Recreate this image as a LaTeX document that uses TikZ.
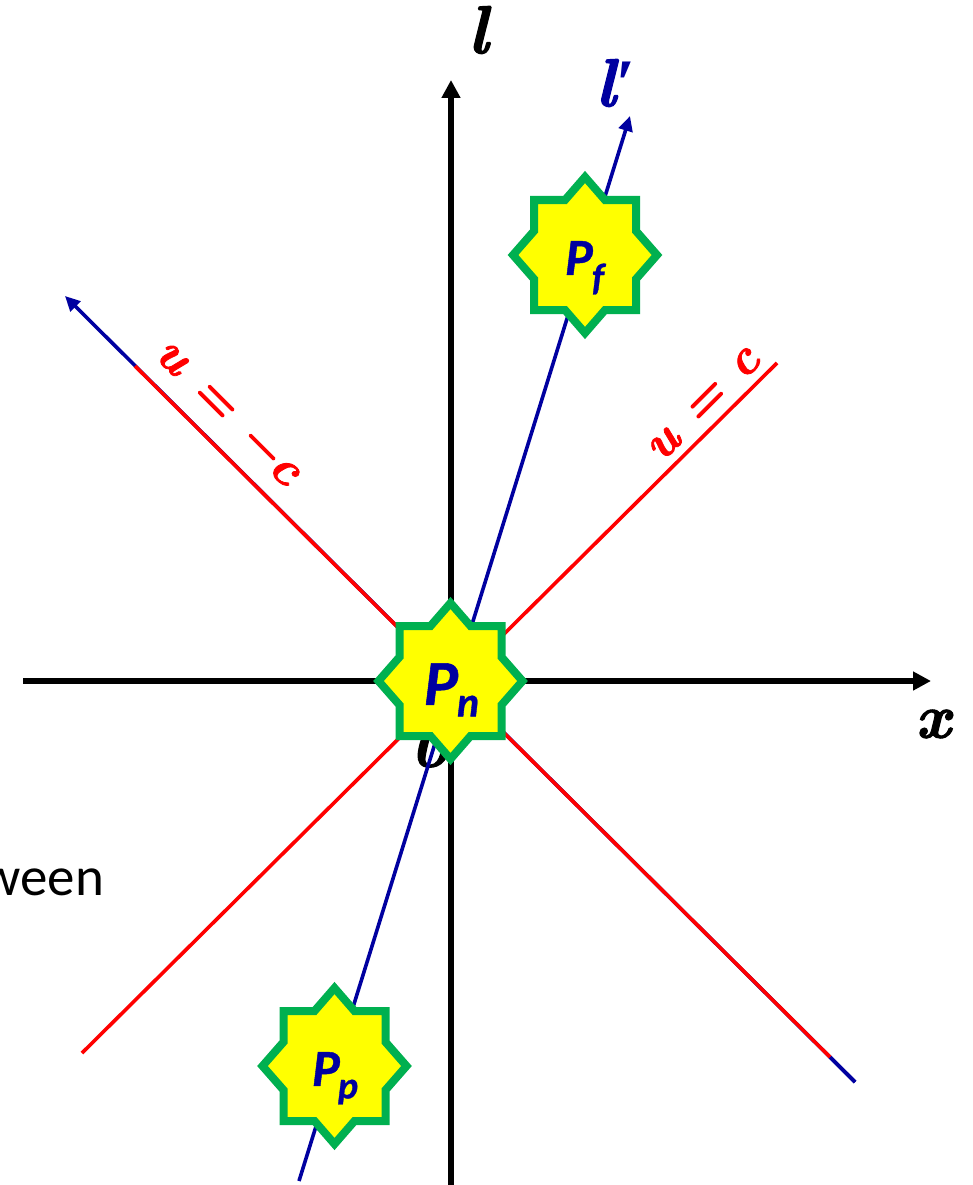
\documentclass[tikz,border=0pt]{standalone}
\usepackage{fontspec}
\setmainfont[BoldItalicFeatures={FakeBold=0.8}]{Carlito}
\newfontfamily\mathlike[BoldItalicFeatures={FakeBold=1.6}]{Latin Modern Roman}
\newfontfamily\primefont{Liberation Serif}
\usetikzlibrary{arrows.meta}
\definecolor{navy}{RGB}{0,0,160}
\definecolor{lred}{RGB}{255,0,0}
\definecolor{sgreen}{RGB}{0,176,80}
\definecolor{syellow}{RGB}{255,255,0}
\tikzset{
  axis/.style={line width=5.5pt,black,-{Triangle[length=18pt,width=18pt]},shorten >=-1pt},
  bluearrow/.style={line width=3.6pt,navy,-{Triangle[length=15pt,width=14pt]}},
  blueline/.style={line width=3.6pt,navy},
  redline/.style={line width=3.6pt,lred},
  starshape/.style={draw=sgreen,fill=syellow,line width=8pt,miter limit=10},
  subtext/.style={inner sep=0pt,font=\bfseries\itshape,text=navy},
  serifbig/.style={inner sep=0pt,font=\mathlike\bfseries\itshape},
  redlabel/.style={inner sep=0pt,text=lred,font=\mathlike\bfseries\itshape\fontsize{50}{50}\selectfont},
}
\newcommand{\starat}[1]{%
  \draw[starshape,shift={#1}] (0,-78)--(20,-55)--(51,-55)--(51,-24)--(72,0)--(51,24)--(51,55)--(20,55)--(0,78)--(-20,55)--(-51,55)--(-51,24)--(-72,0)--(-51,-24)--(-51,-55)--(-20,-55)--cycle;}
\begin{document}
\begin{tikzpicture}[x=1pt,y=-1pt]
\useasboundingbox (0,0) rectangle (972,1185);
\clip (0,0) rectangle (972,1185);
\fill[white] (0,0) rectangle (972,1185);
\coordinate (lS) at (451,1190);
\coordinate (lN) at (451,81);
\coordinate (xW) at (23,681);
\coordinate (xE) at (930,681);
\coordinate (bS) at (299,1181);
\coordinate (bN) at (630,116);
\coordinate (nwS) at (855,1082);
\coordinate (nwN) at (65,296);
\coordinate (rS) at (830,1057);
\coordinate (rN) at (135,366);
\coordinate (neS) at (82,1053);
\coordinate (neN) at (777,363);
\node[anchor=east,inner sep=0pt,font=\fontsize{55}{55}\selectfont] (ween) at (104,882) {ween};
\node[inner sep=0pt,font=\mathlike\bfseries\itshape\fontsize{66}{66}\selectfont] (zero) at (430,745) {0};
\draw[axis] (xW) -- (xE);
\draw[axis] (lS) -- (lN);
\draw[blueline] (nwS) -- (rS);
\draw[redline] (neS) -- (neN);
\draw[bluearrow] (nwS) -- (nwN);
\draw[redline] (rS) -- (rN);
\draw[bluearrow] (bS) -- (bN);
\starat{(585,255)}
\starat{(334.5,1066)}
\starat{(450.5,681)}
\node[subtext,font=\bfseries\itshape\fontsize{52}{52}\selectfont] (Pf) at (579,258) {P};
\node[subtext,font=\bfseries\itshape\fontsize{38}{38}\selectfont] (fs) at (598,279) {f};
\node[subtext,font=\bfseries\itshape\fontsize{52}{52}\selectfont] (Pp) at (326,1069) {P};
\node[subtext,font=\bfseries\itshape\fontsize{38}{38}\selectfont] (ps) at (348,1092) {p};
\node[subtext,font=\bfseries\itshape\fontsize{64}{64}\selectfont] (Pn) at (441,684) {P};
\node[subtext,font=\bfseries\itshape\fontsize{42}{42}\selectfont] (ns) at (468,706) {n};
\node[serifbig,font=\mathlike\bfseries\itshape\fontsize{68}{68}\selectfont] (l) at (478,30) {l};
\node[serifbig,text=navy,font=\mathlike\bfseries\itshape\fontsize{68}{68}\selectfont] (lp) at (615,83) {l{\primefont\bfseries\itshape ′}};
\node[serifbig,font=\mathlike\bfseries\itshape\fontsize{62}{62}\selectfont] (x) at (933,724) {x};
\node[redlabel,rotate=45] (uc) at (704,405) {u = c};
\node[redlabel,rotate=-45] (umc) at (227,414) {u = −c};
\end{tikzpicture}
\end{document}
